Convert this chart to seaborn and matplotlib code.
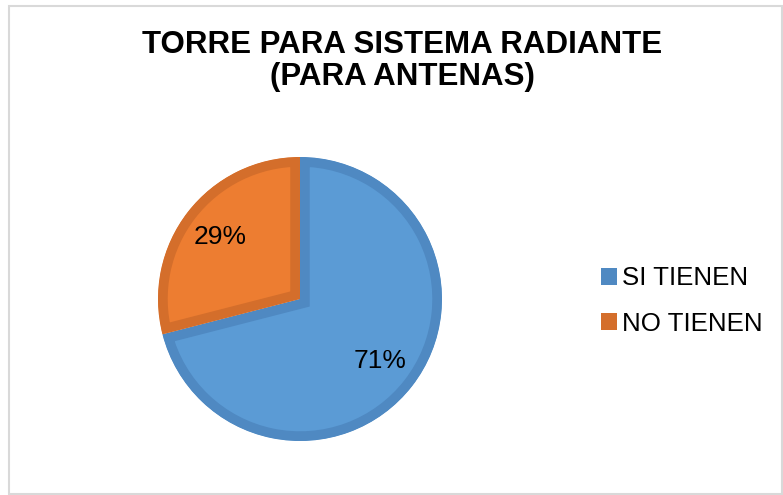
import matplotlib
matplotlib.use("Agg")
import matplotlib.pyplot as plt
from matplotlib.patches import Patch, Rectangle
import seaborn as sns

# data
categorias = ["SI TIENEN", "NO TIENEN"]
porcentajes = [71, 29]
titulo = "TORRE PARA SISTEMA RADIANTE\n(PARA ANTENAS)"

colores = ["#5B9BD5", "#ED7D31"]
bordes = ["#4F89C2", "#D46E2B"]

sns.set_theme(style="white")
plt.rcParams["font.family"] = ["Liberation Sans", "DejaVu Sans"]

W, H = 783, 495
fig = plt.figure(figsize=(W / 100, H / 100), dpi=100)
fig.patch.set_facecolor("white")

# chart frame
fig.patches.append(Rectangle((8.5 / W, 1.5 / H), (W - 10) / W, (H - 7.5) / H,
                             transform=fig.transFigure, fill=False,
                             edgecolor="#D9D9D9", linewidth=1.5))

# pie axes: centre ~(300, 299) px, radius ~142 px
cx, cy, r = 300, 299, 142
ax = fig.add_axes([(cx - r) / W, (H - cy - r) / H, 2 * r / W, 2 * r / H])
wedges, textos, pcts = ax.pie(porcentajes, colors=colores, startangle=90,
                              counterclock=False, radius=1.0,
                              autopct=lambda p: f"{p:.0f}%", pctdistance=0.71,
                              textprops={"fontsize": 19, "color": "black"},
                              wedgeprops={"linewidth": 14})
# border drawn only inside each slice
for w, b in zip(wedges, bordes):
    w.set_edgecolor(b)
    w.set_clip_path(w)
    w.set_clip_on(True)
ax.set_xlim(-1, 1)
ax.set_ylim(-1, 1)
ax.set_aspect("equal")
ax.axis("off")

fig.text(402 / W, 1 - 30 / H, titulo, ha="center", va="top", color="black",
         fontsize=22.5, fontweight="bold", linespacing=1.08)

handles = [Patch(facecolor=b, edgecolor="none") for b in bordes]
leg = fig.legend(handles, categorias, loc="center left",
                 bbox_to_anchor=(578 / W, 1 - 301 / H), frameon=False,
                 fontsize=18.6, handlelength=0.6, handleheight=0.6,
                 handletextpad=0.2, labelspacing=0.82)
for t in leg.get_texts():
    t.set_color("black")

fig.savefig("out.png", dpi=100)
